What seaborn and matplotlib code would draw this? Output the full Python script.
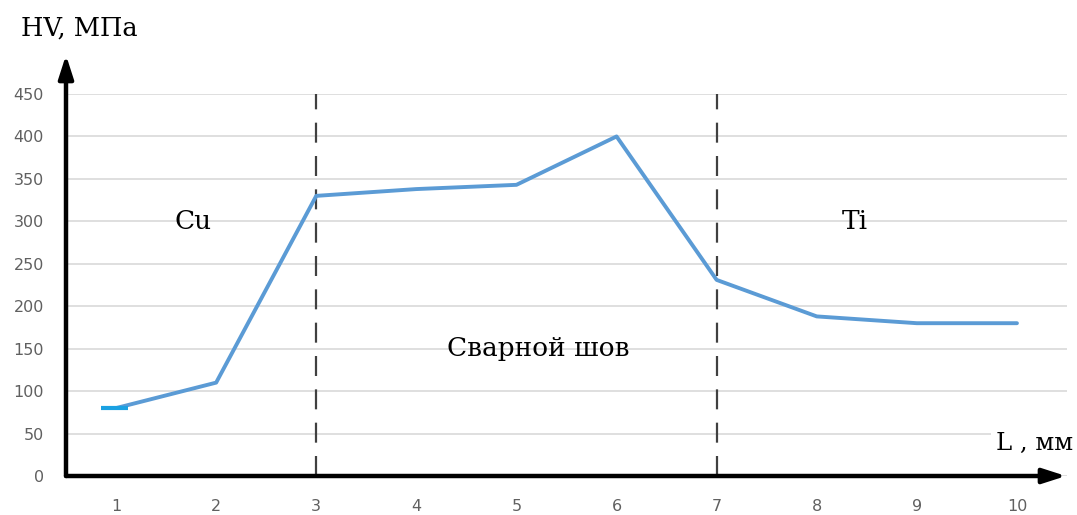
import pandas as pd
import seaborn as sns
import matplotlib.pyplot as plt

# Hardness profile across the Cu-Ti weld
distance_mm = [1, 2, 3, 4, 5, 6, 7, 8, 9, 10]
hardness_mpa = [80, 110, 330, 338, 343, 400, 231, 188, 180, 180]
y_ticks = [0, 50, 100, 150, 200, 250, 300, 350, 400, 450]
zone_bounds = [3, 7]

data = pd.DataFrame({'L': distance_mm, 'HV': hardness_mpa})

sns.set_style('white')
plt.rcParams['font.family'] = ['DejaVu Sans']

fig = plt.figure(figsize=(10.77, 5.15), dpi=100)
ax = fig.add_axes([66 / 1077, 39 / 515, 1001 / 1077, 382 / 515])

sns.lineplot(data=data, x='L', y='HV', ax=ax, color='#5b9bd5', linewidth=2.8, zorder=3)
# short start stub at the first point
ax.plot([0.85, 1.12], [hardness_mpa[0], hardness_mpa[0]], color='#1ba1e2', linewidth=3, zorder=4,
        solid_capstyle='butt')

for xb in zone_bounds:
    ax.axvline(xb, color='#404040', linewidth=1.6, dashes=(9, 6), zorder=2)

ax.set_xlim(0.5, 10.5)
ax.set_ylim(0, 450)
ax.set_xticks(distance_mm)
ax.set_yticks(y_ticks)
ax.yaxis.grid(True, color='#d9d9d9', linewidth=1.2)
ax.set_axisbelow(True)
for s in ax.spines.values():
    s.set_visible(False)
ax.tick_params(length=0, labelsize=11.5, labelcolor='#606060')
ax.tick_params(axis='x', pad=16.5)
ax.tick_params(axis='y', pad=16)
ax.set_xlabel('')
ax.set_ylabel('')

serif = ['DejaVu Serif']
ax.text(1.77, 300, 'Cu', fontsize=19, family=serif, color='black', ha='center', va='center')
ax.text(8.38, 300, 'Ti', fontsize=19, family=serif, color='black', ha='center', va='center')
ax.text(5.22, 150, 'Сварной шов', fontsize=19, family=serif, color='black', ha='center', va='center')

# axis arrows
fig.add_artist(plt.Line2D([66 / 1077, 1045 / 1077], [39 / 515, 39 / 515], color='black', linewidth=3.2))
fig.add_artist(plt.Line2D([66 / 1077, 66 / 1077], [39 / 515, 445 / 515], color='black', linewidth=3.2))
ax.annotate('', xy=(1066 / 1077, 39 / 515), xytext=(1040 / 1077, 39 / 515), xycoords='figure fraction',
            arrowprops=dict(arrowstyle='-|>,head_length=1.4,head_width=0.45', color='black', lw=3,
                            shrinkA=0, shrinkB=0))
ax.annotate('', xy=(66 / 1077, 460 / 515), xytext=(66 / 1077, 438 / 515), xycoords='figure fraction',
            arrowprops=dict(arrowstyle='-|>,head_length=1.4,head_width=0.45', color='black', lw=3,
                            shrinkA=0, shrinkB=0))

fig.text(79 / 1077, 487 / 515, 'HV, МПа', fontsize=18.5, family=serif, color='black',
         ha='center', va='center')
fig.text(1035 / 1077, 72 / 515, 'L , мм', fontsize=17.5, family=serif, color='black',
         ha='center', va='center', bbox=dict(facecolor='white', edgecolor='none', pad=4))

plt.savefig('out.png', dpi=100)
